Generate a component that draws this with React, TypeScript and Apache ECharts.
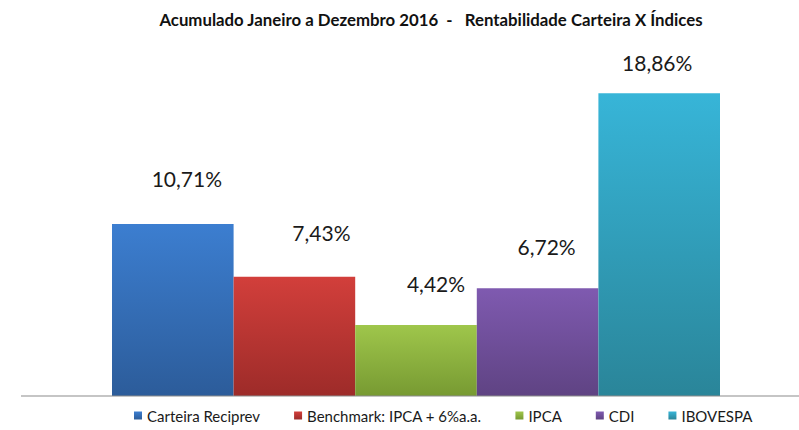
import React, { useEffect, useRef } from "react";
import * as echarts from "echarts";

const titleText = "Acumulado Janeiro a Dezembro 2016  -   Rentabilidade Carteira X Índices";
const seriesNames = ["Carteira Reciprev", "Benchmark: IPCA + 6%a.a.", "IPCA", "CDI", "IBOVESPA"];
const seriesValues = [10.71, 7.43, 4.42, 6.72, 18.86];
const topColors = ["#3c7ed0", "#d23f3b", "#9fc64b", "#7f5ab0", "#37b5d8"];
const bottomColors = ["#2c5c9a", "#9d2b29", "#779a32", "#5f4383", "#2a8599"];
const labelOffsets = [[14, -35], [27, -34], [20, -31], [9, -31], [-2, -20]];

export default function App() {
  const ref = useRef<HTMLDivElement>(null);
  useEffect(() => {
    if (!ref.current) return;
    const chart = echarts.init(ref.current, null, { renderer: "svg" });
    const series = seriesNames.map((name, i) => ({
      name,
      type: "bar",
      data: [seriesValues[i]],
      barWidth: 121.6,
      barGap: "0%",
      itemStyle: {
        color: new echarts.graphic.LinearGradient(0, 0, 0, 1, [
          { offset: 0, color: topColors[i] },
          { offset: 1, color: bottomColors[i] },
        ]),
      },
      label: {
        show: true,
        position: "top",
        distance: 0,
        offset: labelOffsets[i],
        fontFamily: "Lato",
        fontSize: 21,
        color: "#1a1a1a",
        formatter: (p: any) => p.value.toFixed(2).replace(".", ",") + "%",
      },
    }));
    chart.setOption({
      animation: false,
      backgroundColor: "#ffffff",
      title: {
        text: titleText,
        left: 426,
        textAlign: "center",
        top: 6,
        textStyle: { fontFamily: "Lato", fontWeight: "bold", fontSize: 16.8, color: "#111" },
      },
      legend: {
        data: seriesNames,
        left: 129,
        top: 403,
        icon: "rect",
        itemWidth: 8,
        itemHeight: 8,
        itemGap: 34,
        textStyle: { fontFamily: "Lato", fontSize: 15, color: "#1a1a1a" },
      },
      grid: { left: 33, right: 0, top: 75, bottom: 34 },
      xAxis: {
        type: "category",
        data: [""],
        axisLine: { show: false },
        axisTick: { show: false },
        axisLabel: { show: false },
      },
      yAxis: {
        type: "value",
        min: 0,
        max: 20,
        show: false,
        splitLine: { show: false },
      },
      graphic: [
        {
          type: "line",
          shape: { x1: 21, y1: 396, x2: 799, y2: 396 },
          style: { stroke: "#8c8c8c", lineWidth: 1.2 },
          z: 10,
        },
      ],
      series,
    });
    return () => chart.dispose();
  }, []);
  return <div ref={ref} style={{ width: 799, height: 430, position: "absolute", left: 0, top: 0 }} />;
}
